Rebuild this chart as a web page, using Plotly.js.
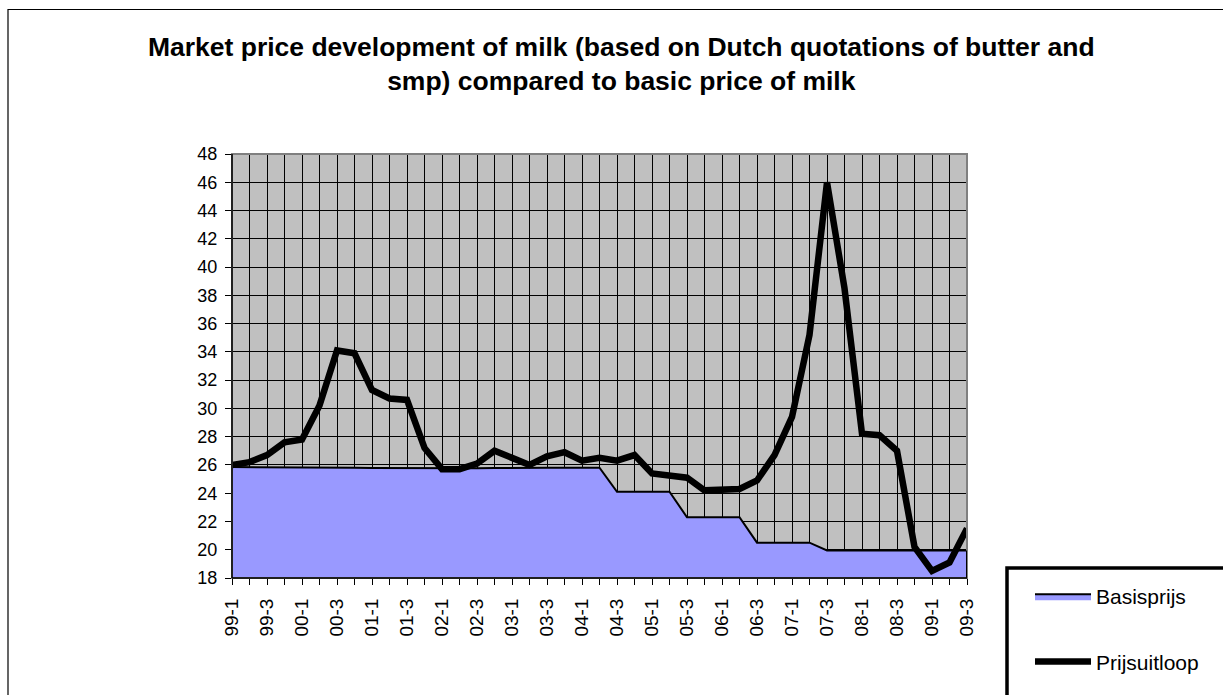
<!DOCTYPE html>
<html>
<head>
<meta charset="utf-8">
<script src="https://cdn.plot.ly/plotly-3.0.1.min.js"></script>
<style>html,body{margin:0;padding:0;background:#fff;}#chart{width:1223px;height:695px;}</style>
</head>
<body>
<div id="chart"></div>
<script>
var quarters = ["99-1","99-2","99-3","99-4","00-1","00-2","00-3","00-4","01-1","01-2","01-3","01-4",
  "02-1","02-2","02-3","02-4","03-1","03-2","03-3","03-4","04-1","04-2","04-3","04-4",
  "05-1","05-2","05-3","05-4","06-1","06-2","06-3","06-4","07-1","07-2","07-3","07-4",
  "08-1","08-2","08-3","08-4","09-1","09-2","09-3"];
var basisprijs = [25.85,25.85,25.84,25.83,25.82,25.82,25.81,25.8,25.78,25.77,25.76,25.76,
  25.76,25.76,25.77,25.78,25.8,25.8,25.8,25.8,25.8,25.8,24.1,24.1,
  24.1,24.1,22.3,22.3,22.3,22.3,20.5,20.5,20.5,20.5,19.95,19.95,
  19.95,19.95,19.95,19.95,19.95,19.95,19.95];
var prijsuitloop = [26.0,26.2,26.7,27.6,27.8,30.2,34.1,33.9,31.3,30.7,30.6,27.2,
  25.7,25.7,26.1,27.0,26.5,26.0,26.6,26.9,26.3,26.5,26.3,26.7,
  25.4,25.2,25.1,24.2,24.2,24.3,24.9,26.7,29.4,35.2,46.0,38.5,
  28.2,28.1,27.0,20.2,18.5,19.1,21.5];
var yTicks = [18,20,22,24,26,28,30,32,34,36,38,40,42,44,46,48];
var tickText = quarters.map(function(q, i){ return i % 2 === 0 ? q : ""; });

var yMin = 18, yMax = 48;
var last = quarters.length - 1;

var traces = [
  {
    type: "scatter", mode: "lines", name: "Basisprijs",
    x: quarters, y: basisprijs, fill: "tozeroy",
    fillcolor: "#9999FF", line: {color: "#000000", width: 2},
    legendgroup: "a", hoverinfo: "x+y"
  },
  {
    type: "scatter", mode: "lines", name: "Prijsuitloop",
    x: quarters, y: prijsuitloop,
    line: {color: "#000000", width: 6.5, shape: "linear"},
    legendgroup: "b", hoverinfo: "x+y"
  }
];

var layout = {
  width: 1223, height: 695,
  paper_bgcolor: "#ffffff", plot_bgcolor: "#C0C0C0",
  margin: {l: 232, r: 256, t: 154, b: 117},
  font: {family: "Liberation Sans, Arial, sans-serif", color: "#000000"},
  title: {
    text: "Market price development of milk (based on Dutch quotations of butter and<br>smp) compared to basic price of milk",
    font: {size: 26.5, family: "Liberation Sans, Arial, sans-serif", color: "#000", weight: "bold"},
    x: 0.508, xanchor: "center", y: 0.92, yanchor: "top", xref: "container", yref: "container"
  },
  xaxis: {
    type: "category", range: [0, last],
    tickmode: "array", tickvals: quarters, ticktext: tickText,
    tickangle: -90, tickfont: {size: 19},
    ticks: "outside", ticklen: 6, tickcolor: "#000", tickwidth: 1,
    showgrid: true, gridcolor: "#000000", gridwidth: 1,
    showline: true, linecolor: "#000", linewidth: 1,
    zeroline: false, fixedrange: true, ticklabelstandoff: 6
  },
  yaxis: {
    range: [yMin, yMax], tickmode: "array", tickvals: yTicks,
    tickfont: {size: 18},
    ticks: "outside", ticklen: 6, tickcolor: "#000", tickwidth: 1,
    showgrid: true, gridcolor: "#000000", gridwidth: 1,
    showline: true, linecolor: "#000", linewidth: 1,
    zeroline: false, fixedrange: true, ticklabelstandoff: 4
  },
  showlegend: true,
  legend: {
    xref: "container", yref: "container",
    x: 1030/1223, y: 1 - 576/695, xanchor: "left", yanchor: "top",
    bgcolor: "rgba(0,0,0,0)", borderwidth: 0,
    font: {size: 21}, itemwidth: 56, tracegroupgap: 35,
    traceorder: "grouped"
  },
  shapes: [
    {type: "rect", xref: "paper", yref: "paper", x0: 0, x1: 1, y0: 0, y1: 1,
     line: {color: "#808080", width: 2}, layer: "above"},
    {type: "line", xref: "x", yref: "y", x0: quarters[last], x1: quarters[last], y0: yMin, y1: basisprijs[last],
     line: {color: "#000", width: 2}, layer: "above"},
    {type: "line", xref: "paper", yref: "paper", x0: 0, x1: 0, y0: 0, y1: 1,
     line: {color: "#000", width: 1.5}, layer: "above"},
    {type: "line", xref: "paper", yref: "paper", x0: 0, x1: 1, y0: 0, y1: 0,
     line: {color: "#000", width: 1.5}, layer: "above"},
    {type: "rect", xref: "paper", yref: "paper",
     x0: (1007-232)/735, x1: 1.6, y0: (578-568)/424, y1: -0.4,
     line: {color: "#000", width: 3.5}, layer: "above"},
    {type: "rect", xref: "paper", yref: "paper",
     x0: (8-232)/735, x1: 1.6, y0: (578-9.5)/424, y1: -0.4,
     line: {color: "#000", width: 1.2}, layer: "above"}
  ]
};

Plotly.newPlot("chart", traces, layout, {displayModeBar: false, staticPlot: true});
</script>
</body>
</html>
